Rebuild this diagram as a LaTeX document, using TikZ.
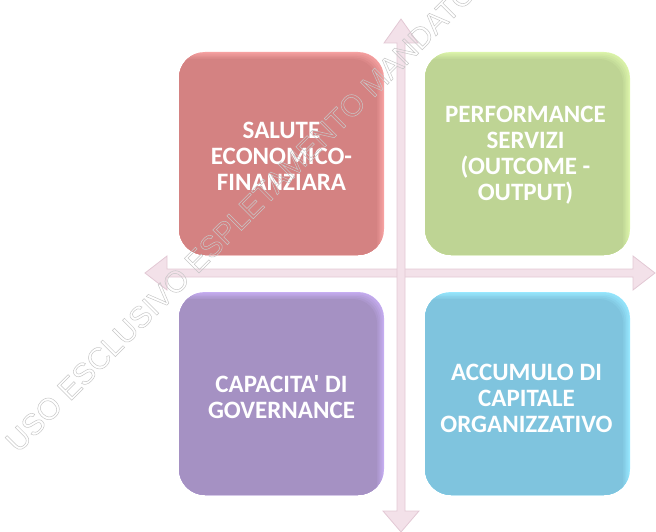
\documentclass[tikz,border=0pt]{standalone}
\usepackage{fontspec}
\setmainfont{Carlito}[Ligatures=TeXOff]
\newfontfamily\wmfont{Liberation Sans}
\definecolor{redbase}{HTML}{D48282}
\definecolor{redrim}{HTML}{F7A2A2}
\definecolor{greenbase}{HTML}{BED494}
\definecolor{greenrim}{HTML}{DDF6AC}
\definecolor{purplebase}{HTML}{A591C3}
\definecolor{purplerim}{HTML}{C6AEF2}
\definecolor{bluebase}{HTML}{7FC4DE}
\definecolor{bluerim}{HTML}{98E8FF}
\definecolor{arrowfill}{HTML}{F3E1E9}
\definecolor{arrowedge}{HTML}{E2C8D4}
\begin{document}
\begin{tikzpicture}[x=1pt,y=-1pt,
  quad/.style 2 args={rectangle, rounded corners=26pt, minimum width=205pt,
    minimum height=203pt, inner sep=0pt, fill=#2,
    path picture={
      \foreach \s/\m in {1/20,2.5/40,4/60,5.5/80,7/100}{
        \fill[#1!\m!#2, rounded corners=24pt]
          ([shift={(-12pt,-12pt)}]path picture bounding box.south west)
          rectangle ([shift={(-\s pt,-\s pt)}]path picture bounding box.north east);
      }
    }},
  label/.style={text=white, align=center, inner sep=0pt,
    font=\bfseries\fontsize{25}{26}\selectfont},
  bigarrow/.style={fill=arrowfill, draw=arrowedge, line width=0.8pt, line join=miter},
  wm/.style={text=black!22, inner sep=0pt, font=\wmfont\fontsize{30}{32}\selectfont}
]
\useasboundingbox (0,0) rectangle (656,532);
\clip (0,0) rectangle (656,532);

% axis end points
\coordinate (top) at (401,19);
\coordinate (bottom) at (401,532);
\coordinate (left) at (145,273);
\coordinate (right) at (655,273);

% horizontal double arrow
\draw[bigarrow] (left) -- ([shift={(22,-17)}]left) -- ([shift={(22,-4)}]left)
  -- ([shift={(-22,-4)}]right) -- ([shift={(-22,-17)}]right) -- (right)
  -- ([shift={(-22,17)}]right) -- ([shift={(-22,4)}]right)
  -- ([shift={(22,4)}]left) -- ([shift={(22,17)}]left) -- cycle;
% vertical double arrow
\draw[bigarrow] (top) -- ([shift={(17,24)}]top) -- ([shift={(4,24)}]top)
  -- ([shift={(4,-21)}]bottom) -- ([shift={(18,-21)}]bottom) -- (bottom)
  -- ([shift={(-18,-21)}]bottom) -- ([shift={(-4,-21)}]bottom)
  -- ([shift={(-4,24)}]top) -- ([shift={(-17,24)}]top) -- cycle;

% boxes
\node[quad={redbase}{redrim}] (salute) at (281.5,153.5) {};
\node[quad={greenbase}{greenrim}] (perf) at (527.5,153.5) {};
\node[quad={purplebase}{purplerim}] (gov) at (281.5,393.5) {};
\node[quad={bluebase}{bluerim}] (capit) at (527.5,393.5) {};

% labels
\node[label] (tsalute) at ([yshift=-3pt]salute.center) {SALUTE\\ECONOMICO-\\FINANZIARA};
\node[label] (tperf) at ([shift={(-2pt,-2pt)}]perf.center) {PERFORMANCE\\SERVIZI\\(OUTCOME -\\OUTPUT)};
\node[label] (tgov) at ([yshift=-4pt]gov.center) {CAPACITA' DI\\GOVERNANCE};
\node[label] (tcapit) at ([shift={(-1pt,-5pt)}]capit.center) {ACCUMULO DI\\CAPITALE\\ORGANIZZATIVO};

% watermark
\node[wm, rotate=45, anchor=base west] (wm) at (18,454)
  {\special{pdf:literal direct 1 Tr 0.5 w}USO ESCLUSIVO ESPLETAMENTO MANDATO\special{pdf:literal direct 0 Tr}};
\end{tikzpicture}
\end{document}
